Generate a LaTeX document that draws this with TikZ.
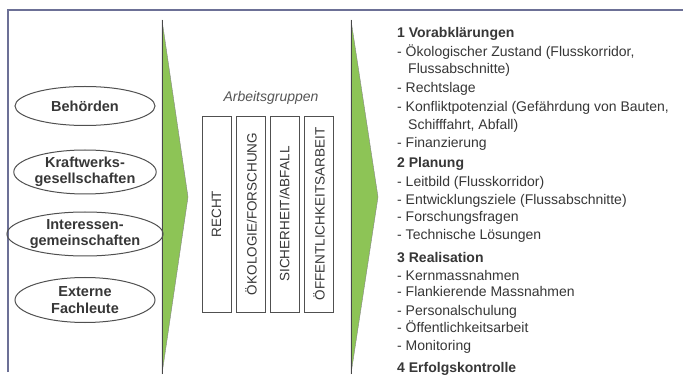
\documentclass[tikz,border=0pt]{standalone}
\usepackage{fontspec}
\setmainfont{Liberation Sans}
\usetikzlibrary{shapes.geometric}
\definecolor{frameblue}{RGB}{108,112,150}
\definecolor{arrowgreen}{RGB}{141,196,86}
\definecolor{txt}{RGB}{55,55,55}
\definecolor{edge}{RGB}{80,80,80}
\tikzset{
  party/.style={ellipse, draw=edge, line width=1pt, minimum width=140pt, minimum height=44pt, inner sep=0pt,
    align=center, font=\fontsize{14.5}{16.5}\selectfont\bfseries, text=txt},
  groupbox/.style={draw=edge, line width=0.9pt, minimum width=29pt, minimum height=196pt, inner sep=0pt},
  grouptext/.style={rotate=90, font=\fontsize{13.5}{15}\selectfont, text=txt},
  head/.style={anchor=base west, inner sep=0pt, font=\fontsize{14}{16}\selectfont\bfseries, text=txt},
  item/.style={anchor=base west, inner sep=0pt, font=\fontsize{14}{16}\selectfont, text=txt},
  chevron/.style={fill=arrowgreen, draw=edge!70, line width=0.4pt},
}
\begin{document}
\begin{tikzpicture}[x=1pt,y=-1pt]
\useasboundingbox (0,0) rectangle (683,382);
\fill[white] (0,0) rectangle (683,382);
% frame
\draw[frameblue, line width=1.6pt] (8,372) -- (8,10) -- (683,10);
% chevrons
\draw[chevron] (162,20) -- (188,197) -- (162,374) -- cycle;
\draw[edge!90!black, line width=0.9pt] (162,20) -- (162,374);
\draw[chevron] (351,20) -- (378,197) -- (351,374) -- cycle;
\draw[edge!90!black, line width=0.9pt] (351,20) -- (351,374);
% parties
\node[party, minimum height=39pt] (behoerden) at (85,106) {Behörden};
\node[party] (kraftwerk) at (85,172) {Kraftwerks-\\gesellschaften};
\node[party] (interessen) at (85,234) {Interessen-\\gemeinschaften};
\node[party, minimum height=45pt] (extern) at (85,300) {Externe\\Fachleute};
% working groups
\node[font=\fontsize{14}{16}\selectfont\itshape, text=txt!85] (ag) at (271,98) {Arbeitsgruppen};
\node[groupbox] (recht) at (216.5,214) {};
\node[grouptext] (rechtT) at (recht) {RECHT};
\node[groupbox] (oeko) at (251,214) {};
\node[grouptext] (oekoT) at (oeko) {ÖKOLOGIE/FORSCHUNG};
\node[groupbox] (sicher) at (284.5,214) {};
\node[grouptext] (sicherT) at (sicher) {SICHERHEIT/ABFALL};
\node[groupbox] (oeff) at (319,214) {};
\node[grouptext] (oeffT) at (oeff) {ÖFFENTLICHKEITSARBEIT};
% phases
\node[head] (h1) at (397,38) {1 Vorabklärungen};
\node[item] (i1a) at (397,57) {- Ökologischer Zustand (Flusskorridor,};
\node[item] (i1b) at (408,74) {Flussabschnitte)};
\node[item] (i1c) at (397,93) {- Rechtslage};
\node[item] (i1d) at (397,112) {- Konfliktpotenzial (Gefährdung von Bauten,};
\node[item] (i1e) at (408,130) {Schifffahrt, Abfall)};
\node[item] (i1f) at (397,148) {- Finanzierung};
\node[head] (h2) at (397,168) {2 Planung};
\node[item] (i2a) at (397,187) {- Leitbild (Flusskorridor)};
\node[item] (i2b) at (397,205) {- Entwicklungsziele (Flussabschnitte)};
\node[item] (i2c) at (397,222) {- Forschungsfragen};
\node[item] (i2d) at (397,240) {- Technische Lösungen};
\node[head] (h3) at (397,262) {3 Realisation};
\node[item] (i3a) at (397,280) {- Kernmassnahmen};
\node[item] (i3b) at (397,297) {- Flankierende Massnahmen};
\node[item] (i3c) at (397,315) {- Personalschulung};
\node[item] (i3d) at (397,332) {- Öffentlichkeitsarbeit};
\node[item] (i3e) at (397,350) {- Monitoring};
\node[head] (h4) at (397,372) {4 Erfolgskontrolle};
\end{tikzpicture}
\end{document}
